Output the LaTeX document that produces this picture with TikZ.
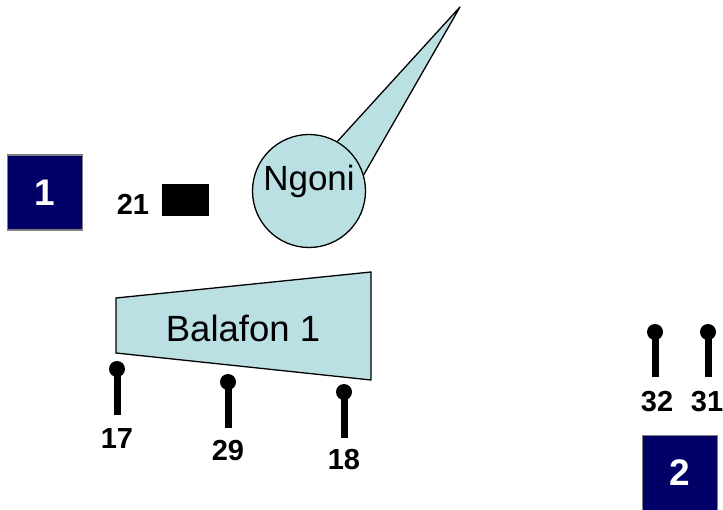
\documentclass[tikz,border=0pt]{standalone}
\usepackage{fontspec}
\setmainfont{Liberation Sans}
\definecolor{navybox}{RGB}{0,0,102}
\definecolor{lightteal}{RGB}{187,224,227}
\definecolor{boxedge}{RGB}{128,128,128}
\begin{document}
\begin{tikzpicture}[x=1pt,y=-1pt,
  numbox/.style={draw=boxedge,line width=1.5pt,fill=navybox,minimum width=75pt,minimum height=75pt,inner sep=0pt,text=white,font=\bfseries\fontsize{37}{37}\selectfont},
  pinlabel/.style={font=\bfseries\fontsize{29}{29}\selectfont,inner sep=0pt},
  ball/.style={circle,fill=black,minimum size=16pt,inner sep=0pt},
  stem/.style={line width=7pt},
  shapefill/.style={draw=black,line width=1.3pt,fill=lightteal}]
\useasboundingbox (0,0) rectangle (723,510);
% boxes
\node[numbox] (b1) at (45,192.5) {1};
\node[numbox] (b2) at (680,473) {2};
% 21 and black rect
\node[pinlabel] (l21) at (133,204) {21};
\node[fill=black,minimum width=47pt,minimum height=32pt,inner sep=0pt] (blk) at (185.5,200) {};
% Ngoni
\coordinate (tip) at (460,7);
\coordinate (ba) at (325,155);
\coordinate (bb) at (355,190);
\filldraw[shapefill,line join=round] (ba) -- (tip) -- (bb) -- cycle;
\node[shapefill,circle,minimum size=113pt,inner sep=0pt] (ngoni) at (309,191) {};
\node[inner sep=0pt,font=\fontsize{35}{35}\selectfont] (ngtext) at (309,181) {Ngoni};
% Balafon
\coordinate (t1) at (116,298);
\coordinate (t2) at (371,272);
\coordinate (t3) at (371,380);
\coordinate (t4) at (116,353);
\filldraw[shapefill] (t1) -- (t2) -- (t3) -- (t4) -- cycle;
\node[inner sep=0pt,font=\fontsize{36.5}{36.5}\selectfont] (bal) at (243,328) {Balafon 1};
% pins
\node[ball] (p17) at (117,369) {};
\coordinate (e17) at (117,415);
\draw[stem] (p17.center) -- (e17);
\node[pinlabel] (l17) at (117,439) {17};
\node[ball] (p29) at (228,382) {};
\coordinate (e29) at (228,428);
\draw[stem] (p29.center) -- (e29);
\node[pinlabel] (l29) at (228,451) {29};
\node[ball] (p18) at (344,392) {};
\coordinate (e18) at (344,438);
\draw[stem] (p18.center) -- (e18);
\node[pinlabel] (l18) at (344,460) {18};
\node[ball] (p32) at (655,332) {};
\coordinate (e32) at (655,377);
\draw[stem] (p32.center) -- (e32);
\node[pinlabel] (l32) at (657,402) {32};
\node[ball] (p31) at (708,332) {};
\coordinate (e31) at (708,377);
\draw[stem] (p31.center) -- (e31);
\node[pinlabel] (l31) at (707,402) {31};
\end{tikzpicture}
\end{document}
